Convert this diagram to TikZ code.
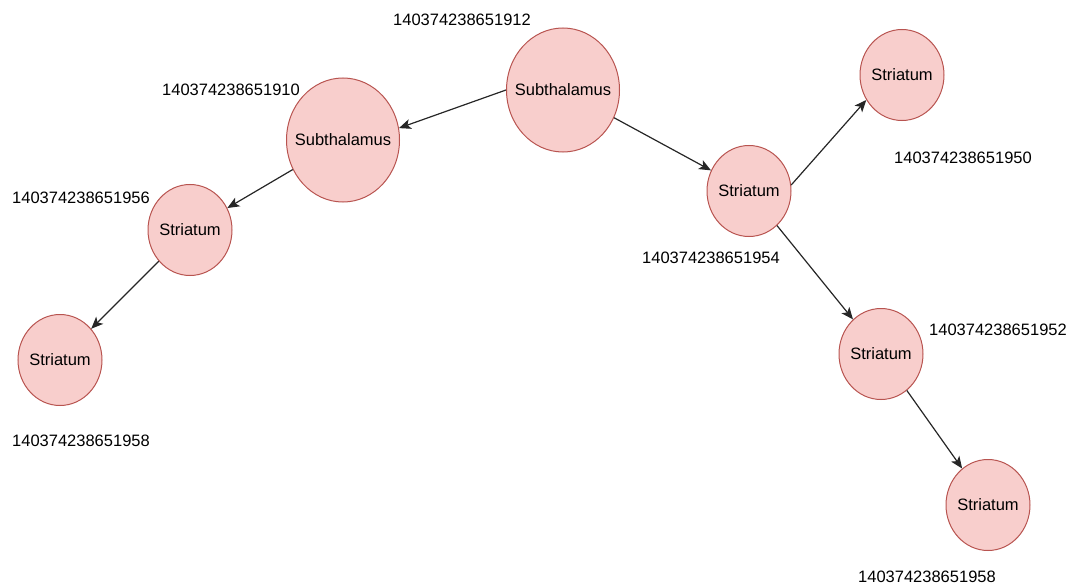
\documentclass[tikz,border=0pt]{standalone}
\usepackage{fontspec}
\setmainfont{Liberation Sans}
\usepackage{tikz}
\usetikzlibrary{arrows.meta,shapes.geometric}
\definecolor{fillc}{HTML}{F8CECC}
\definecolor{strokec}{HTML}{B85450}
\tikzset{
  region/.style={ellipse, fill=fillc, draw=strokec, line width=1pt, inner xsep=-14pt, inner ysep=0pt, font=\fontsize{16.5}{19}\selectfont},
  big/.style={region, minimum width=113pt, minimum height=124pt},
  small/.style={region, minimum width=84pt, minimum height=91pt},
  edge/.style={-{Stealth[length=12pt,width=10pt,inset=3pt]}, line width=1.2pt, draw=black!85},
  idlab/.style={font=\fontsize{16.5}{19}\selectfont, inner sep=0pt}
}
\begin{document}
\begin{tikzpicture}[x=1pt,y=-1pt]
  \useasboundingbox (0,0) rectangle (1072,586);

  \node[big] (sub1) at (563,90) {Subthalamus};
  \node[big] (sub2) at (343,140) {Subthalamus};
  \node[small] (str1) at (190,230) {Striatum};
  \node[small] (str2) at (60,360) {Striatum};
  \node[small] (str3) at (749,191) {Striatum};
  \node[small] (str4) at (902,75) {Striatum};
  \node[small] (str5) at (881,354) {Striatum};
  \node[small] (str6) at (988,505) {Striatum};

  % ids
  \node[idlab] (id1) at (462,20) {140374238651912};
  \node[idlab] (id2) at (231,90) {140374238651910};
  \node[idlab] (id3) at (81,198) {140374238651956};
  \node[idlab] (id4) at (81,441) {140374238651958};
  \node[idlab] (id5) at (711,258) {140374238651954};
  \node[idlab] (id6) at (963,158) {140374238651950};
  \node[idlab] (id7) at (998,330) {140374238651952};
  \node[idlab] (id8) at (927,577) {140374238651958};

  \draw[edge] (sub1.west) -- (sub2.12);
  \draw[edge] (sub1) -- (str3);
  \draw[edge] (sub2) -- (str1);
  \draw[edge] (str1) -- (str2);
  \draw[edge] (str3.8) -- (str4.215);
  \draw[edge] (str3) -- (str5);
  \draw[edge] (str5) -- (str6);
\end{tikzpicture}
\end{document}
